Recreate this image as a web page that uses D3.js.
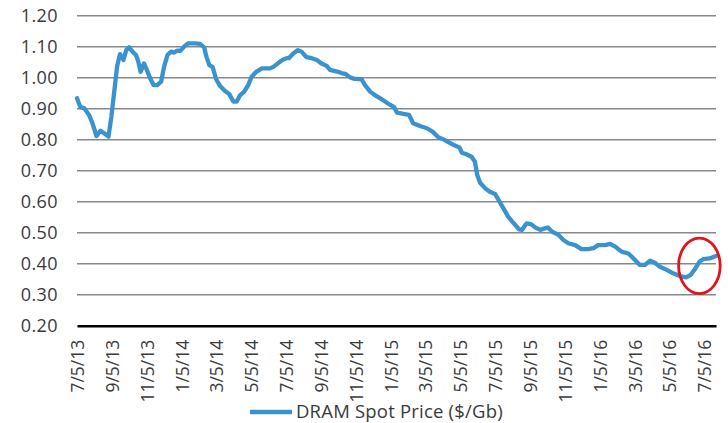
<!DOCTYPE html>
<html>
<head>
<meta charset="utf-8">
<script src="https://cdn.jsdelivr.net/npm/d3@7"></script>
<style>
  html, body { margin: 0; padding: 0; background: #fff; }
  svg { display: block; font-family: "Open Sans", "Noto Sans", sans-serif; }
</style>
</head>
<body>
<svg id="chart" width="728" height="423"></svg>
<script>
// DRAM spot price, $ per gigabit
const dates = ["2013-07-05","2013-07-11","2013-07-18","2013-07-26","2013-08-01","2013-08-08","2013-08-15","2013-08-22","2013-08-29","2013-09-03",
  "2013-09-09","2013-09-13","2013-09-18","2013-09-24","2013-09-29","2013-10-04","2013-10-10","2013-10-16","2013-10-20","2013-10-24",
  "2013-10-30","2013-11-04","2013-11-11","2013-11-16","2013-11-22","2013-11-29","2013-12-04","2013-12-10","2013-12-16","2013-12-21",
  "2013-12-27","2014-01-02","2014-01-08","2014-01-15","2014-01-27","2014-02-05","2014-02-12","2014-02-16","2014-02-21","2014-02-27",
  "2014-03-05","2014-03-12","2014-03-20","2014-03-28","2014-04-04","2014-04-10","2014-04-16","2014-04-23","2014-04-30","2014-05-06",
  "2014-05-14","2014-05-24","2014-06-07","2014-06-13","2014-06-22","2014-06-30","2014-07-06","2014-07-10","2014-07-18","2014-07-26",
  "2014-08-01","2014-08-10","2014-08-19","2014-08-28","2014-09-05","2014-09-14","2014-09-20","2014-09-27","2014-10-04","2014-10-11",
  "2014-10-17","2014-10-25","2014-11-02","2014-11-14","2014-11-20","2014-11-29","2014-12-07","2014-12-16","2014-12-25","2015-01-03",
  "2015-01-10","2015-01-15","2015-01-26","2015-02-05","2015-02-12","2015-02-24","2015-03-08","2015-03-18","2015-03-28","2015-04-06",
  "2015-04-17","2015-04-26","2015-05-04","2015-05-08","2015-05-15","2015-05-25","2015-05-31","2015-06-04","2015-06-09","2015-06-18",
  "2015-06-26","2015-07-05","2015-07-13","2015-07-23","2015-07-28","2015-08-06","2015-08-16","2015-08-21","2015-08-29","2015-09-06",
  "2015-09-13","2015-09-22","2015-09-30","2015-10-05","2015-10-13","2015-10-24","2015-11-01","2015-11-10","2015-11-22","2015-12-03",
  "2015-12-15","2015-12-24","2016-01-01","2016-01-13","2016-01-22","2016-01-31","2016-02-11","2016-02-23","2016-03-03","2016-03-14",
  "2016-03-23","2016-04-01","2016-04-09","2016-04-18","2016-04-30","2016-05-11","2016-05-23","2016-06-03","2016-06-11","2016-06-18",
  "2016-06-26","2016-07-03","2016-07-14","2016-07-25"];

const prices = [0.934,0.905,0.901,0.880,0.853,0.812,0.829,0.820,0.810,0.874,
  0.971,1.036,1.076,1.057,1.089,1.098,1.084,1.073,1.052,1.019,
  1.046,1.025,0.993,0.976,0.976,0.987,1.035,1.073,1.084,1.081,
  1.087,1.087,1.100,1.111,1.111,1.109,1.098,1.068,1.041,1.034,
  0.995,0.973,0.958,0.947,0.923,0.923,0.944,0.955,0.976,1.003,
  1.019,1.030,1.030,1.035,1.048,1.059,1.063,1.063,1.079,1.089,
  1.084,1.066,1.063,1.057,1.046,1.038,1.025,1.022,1.019,1.014,
  1.012,1.001,0.996,0.995,0.976,0.955,0.944,0.934,0.923,0.912,
  0.905,0.887,0.883,0.880,0.853,0.844,0.837,0.826,0.808,0.801,
  0.790,0.781,0.775,0.758,0.754,0.745,0.729,0.686,0.661,0.643,
  0.632,0.625,0.600,0.568,0.552,0.532,0.511,0.509,0.530,0.528,
  0.517,0.509,0.514,0.517,0.503,0.493,0.477,0.466,0.460,0.447,
  0.447,0.450,0.460,0.460,0.464,0.455,0.439,0.433,0.417,0.396,
  0.396,0.410,0.403,0.390,0.380,0.369,0.360,0.356,0.364,0.382,
  0.406,0.415,0.417,0.425];

const xTickLabels = ["7/5/13","9/5/13","11/5/13","1/5/14","3/5/14","5/5/14","7/5/14","9/5/14","11/5/14",
  "1/5/15","3/5/15","5/5/15","7/5/15","9/5/15","11/5/15","1/5/16","3/5/16","5/5/16","7/5/16"];
const yTicks = [0.20,0.30,0.40,0.50,0.60,0.70,0.80,0.90,1.00,1.10,1.20];
const seriesName = "DRAM Spot Price ($/Gb)";

// recent rebound that gets circled
const highlightDate = "2016-06-26";
const highlightPrice = 0.393;

const lineColor = "#3a93cf";
const textColor = "#3a3a3a";

const parseISO = d3.timeParse("%Y-%m-%d");
const parseTick = d3.timeParse("%m/%d/%y");
const points = dates.map((d, i) => ({ date: parseISO(d), value: prices[i] }));

const svg = d3.select("#chart");
const plotLeft = 77, plotRight = 716, plotTop = 15.7, plotBottom = 325.7;

const x = d3.scaleTime()
  .domain(d3.extent(points, d => d.date))
  .range([plotLeft, plotRight]);
const y = d3.scaleLinear().domain([0.2, 1.2]).range([plotBottom, plotTop]);

// horizontal gridlines
svg.append("g")
  .selectAll("line")
  .data(yTicks.filter(t => t > 0.2))
  .join("line")
  .attr("x1", plotLeft).attr("x2", plotRight)
  .attr("y1", d => y(d)).attr("y2", d => y(d))
  .attr("stroke", "#888")
  .attr("stroke-width", 1.6);

// y axis labels
const yAxis = svg.append("g")
  .attr("transform", `translate(${plotLeft},0)`)
  .call(d3.axisLeft(y).tickValues(yTicks).tickFormat(d3.format(".2f")).tickSize(0).tickPadding(19));
yAxis.select(".domain").remove();
yAxis.selectAll("text")
  .attr("fill", textColor)
  .style("font-size", "18px")
  .style("letter-spacing", "0.4px")
  .style("font-family", '"Open Sans", sans-serif');

// x axis with rotated date labels
const tickDates = xTickLabels.map(parseTick);
const xAxis = svg.append("g")
  .attr("transform", `translate(0,${plotBottom})`)
  .call(d3.axisBottom(x).tickValues(tickDates).tickFormat((d, i) => xTickLabels[i]).tickSize(0));
xAxis.select(".domain")
  .attr("stroke", "#000")
  .attr("stroke-width", 2.6);
xAxis.selectAll("text")
  .attr("fill", textColor)
  .style("font-size", "17.5px")
  .style("font-family", '"Open Sans", sans-serif')
  .attr("transform", "rotate(-90)")
  .attr("text-anchor", "end")
  .attr("x", -14)
  .attr("y", 0)
  .attr("dy", "0.36em");

// price line
const line = d3.line()
  .x(d => x(d.date))
  .y(d => y(d.value));
svg.append("path")
  .datum(points)
  .attr("d", line)
  .attr("fill", "none")
  .attr("stroke", lineColor)
  .attr("stroke-width", 4.3)
  .attr("stroke-linejoin", "round")
  .attr("stroke-linecap", "round");

// red ring around the latest upturn
svg.append("ellipse")
  .attr("cx", x(parseISO(highlightDate)))
  .attr("cy", y(highlightPrice))
  .attr("rx", 20.8)
  .attr("ry", 27.8)
  .attr("fill", "none")
  .attr("stroke", "#e0141e")
  .attr("stroke-width", 2.8);

// legend
const legend = svg.append("g").attr("transform", "translate(250,412)");
legend.append("line")
  .attr("x1", 0).attr("x2", 42)
  .attr("y1", 0).attr("y2", 0)
  .attr("stroke", lineColor)
  .attr("stroke-width", 4.5);
legend.append("text")
  .attr("x", 46)
  .attr("y", 6)
  .attr("fill", textColor)
  .style("font-size", "18.5px")
  .style("letter-spacing", "0.2px")
  .text(seriesName);
</script>
</body>
</html>
